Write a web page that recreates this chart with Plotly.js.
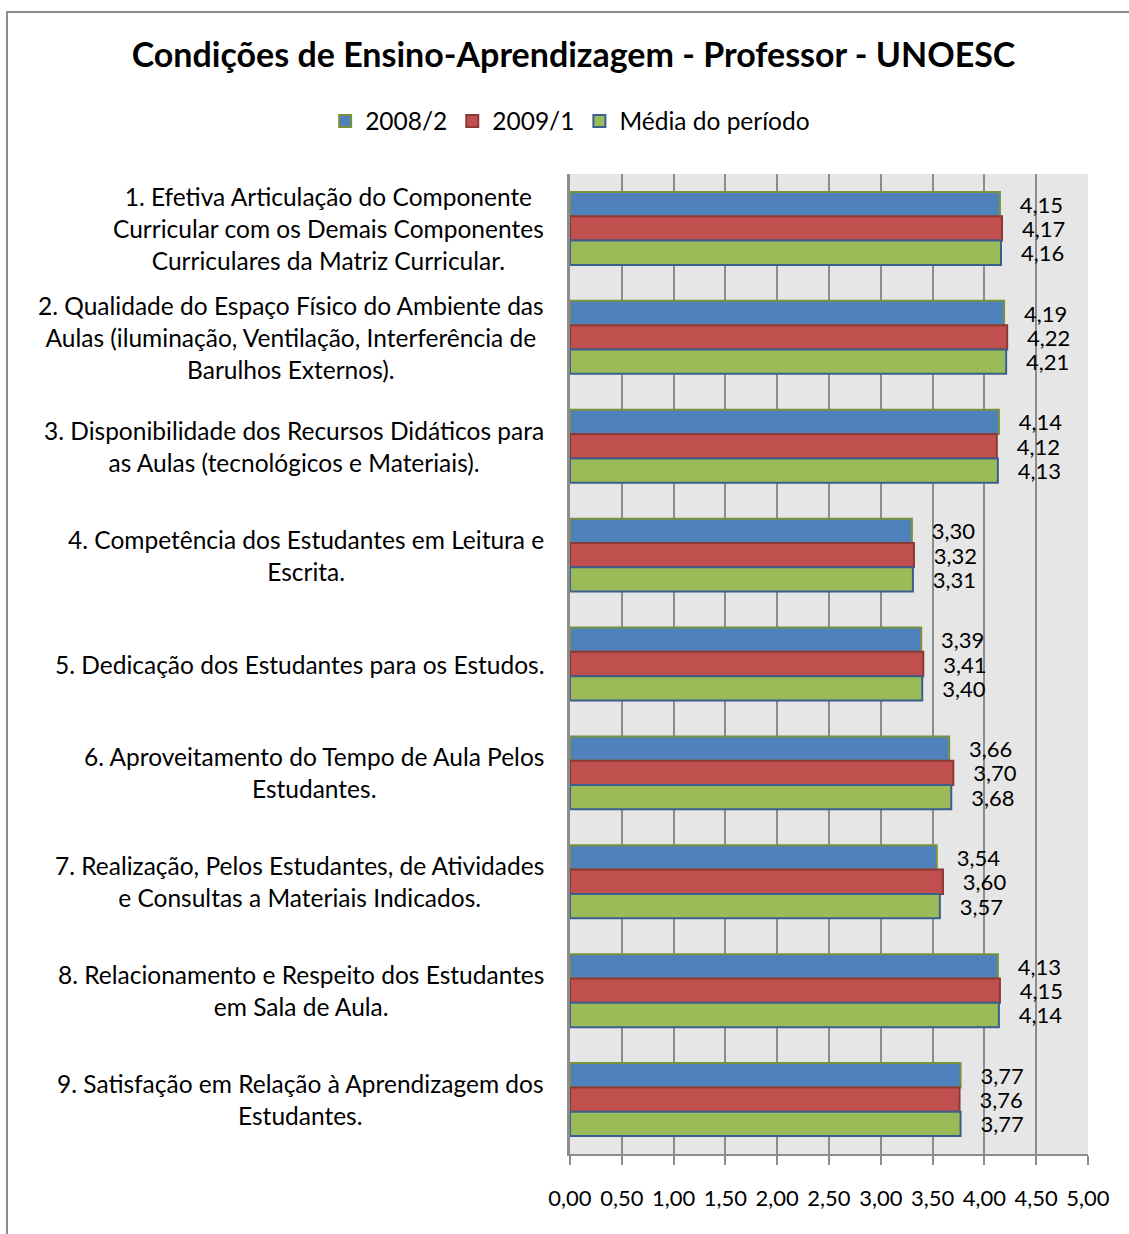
<!DOCTYPE html>
<html>
<head>
<meta charset="utf-8">
<script src="https://cdn.plot.ly/plotly-3.0.1.min.js"></script>
<style>
  html, body { margin: 0; padding: 0; background: #ffffff; }
  #frame { position: absolute; left: 6px; top: 11px; width: 1200px; height: 1300px;
           border-left: 2px solid #8c8c8c; border-top: 2px solid #8c8c8c; pointer-events: none; }
  #chart { position: absolute; left: 0; top: 0; width: 1129px; height: 1234px; }
</style>
</head>
<body>
<div id="frame"></div>
<div id="chart"></div>
<script>
const categories = [
  "1. Efetiva Articulação do Componente<br>Curricular com os Demais Componentes<br>Curriculares da Matriz Curricular.",
  "2. Qualidade do Espaço Físico do Ambiente das<br>Aulas (iluminação, Ventilação, Interferência de<br>Barulhos Externos).",
  "3. Disponibilidade dos Recursos Didáticos para<br>as Aulas (tecnológicos e Materiais).",
  "4. Competência dos Estudantes em Leitura e<br>Escrita.",
  "5. Dedicação dos Estudantes para os Estudos.",
  "6. Aproveitamento do Tempo de Aula Pelos<br>Estudantes.",
  "7. Realização, Pelos Estudantes, de Atividades<br>e Consultas a Materiais Indicados.",
  "8. Relacionamento e Respeito dos Estudantes<br>em Sala de Aula.",
  "9. Satisfação em Relação à Aprendizagem dos<br>Estudantes."
];
const seriesNames = ["2008/2", "2009/1", "Média do período"];
const s2008_2 = [4.15, 4.19, 4.14, 3.30, 3.39, 3.66, 3.54, 4.13, 3.77];
const s2009_1 = [4.17, 4.22, 4.12, 3.32, 3.41, 3.70, 3.60, 4.15, 3.76];
const sMedia  = [4.16, 4.21, 4.13, 3.31, 3.40, 3.68, 3.57, 4.14, 3.77];
const tickValues = [0, 0.5, 1, 1.5, 2, 2.5, 3, 3.5, 4, 4.5, 5];

const FONT = "Lato, 'Open Sans', sans-serif";
const fills = ["#4f81bd", "#c0504d", "#9bbb59"];
const outlines = ["#77933c", "#8c3836", "#3a5f8f"];
const seriesData = [s2008_2, s2009_1, sMedia];

const traces = seriesData.map((vals, i) => ({
  type: "bar",
  orientation: "h",
  name: seriesNames[i],
  x: vals,
  y: categories,
  marker: { color: fills[i], line: { color: outlines[i], width: 2 } },
  texttemplate: "\u00a0\u00a0\u00a0%{x:.2f}",
  textposition: "outside",
  constraintext: "none",
  cliponaxis: false,
  textfont: { family: FONT, size: 22, color: "#000000" },
  hoverinfo: "x+name"
}));

const annotations = categories.map(c => ({
  xref: "paper", yref: "y",
  x: 0, y: c,
  xanchor: "right", yanchor: "middle",
  xshift: -24,
  align: "center",
  showarrow: false,
  text: c,
  font: { family: FONT, size: 24.5, color: "#000000" }
}));

const layout = {
  width: 1129, height: 1234,
  margin: { l: 570, r: 41, t: 174, b: 80, pad: 0 },
  paper_bgcolor: "rgba(0,0,0,0)",
  plot_bgcolor: "#e6e6e6",
  separators: ",.",
  barmode: "group",
  bargap: 0.33,
  bargroupgap: 0,
  font: { family: FONT, size: 22, color: "#000000" },
  title: {
    text: "<b>Condições de Ensino-Aprendizagem - Professor - UNOESC</b>",
    font: { family: FONT, size: 34, color: "#000000" },
    x: 0.508, xanchor: "center",
    y: 1 - 55 / 1234, yanchor: "middle"
  },
  legend: {
    orientation: "h",
    xref: "container", yref: "container",
    x: 0.505, xanchor: "center",
    y: 1 - 121 / 1234, yanchor: "middle",
    font: { family: FONT, size: 24.5, color: "#000000" },
    itemwidth: 30,
    bgcolor: "rgba(0,0,0,0)"
  },
  xaxis: {
    range: [0, 5],
    tickvals: tickValues,
    tickformat: ".2f",
    showgrid: true, gridcolor: "#8c8c8c", gridwidth: 2,
    zeroline: false,
    showline: true, linecolor: "#8c8c8c", linewidth: 2,
    ticks: "outside", ticklen: 9, tickwidth: 2, tickcolor: "#8c8c8c",
    ticklabelstandoff: 15,
    tickfont: { family: FONT, size: 22, color: "#000000" },
    fixedrange: true
  },
  yaxis: {
    type: "category",
    categoryorder: "array",
    categoryarray: categories,
    autorange: "reversed",
    showticklabels: false,
    showgrid: false,
    zeroline: false,
    showline: true, linecolor: "#8c8c8c", linewidth: 3,
    ticks: "",
    fixedrange: true
  },
  annotations: annotations,
  showlegend: true
};

Plotly.newPlot("chart", traces, layout, { displayModeBar: false, staticPlot: true });
</script>
</body>
</html>
